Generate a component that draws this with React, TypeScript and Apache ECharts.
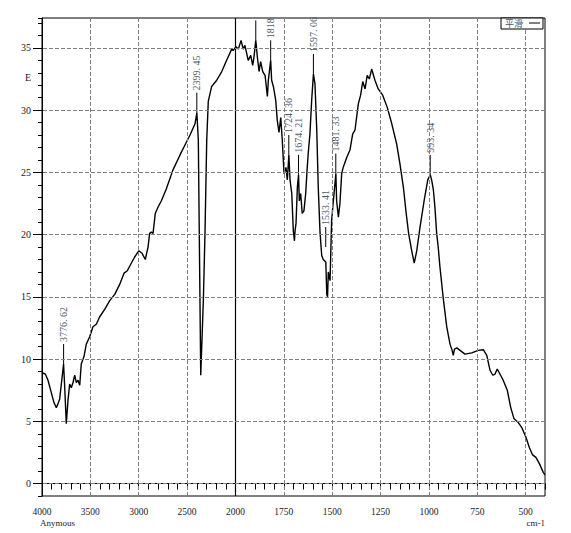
import { useEffect, useRef } from 'react';
import * as echarts from 'echarts';

// Spectrum (wavenumber cm-1, value)
const WAVENUMBERS = [
  4000, 3966, 3938, 3904, 3876, 3852, 3835, 3817, 3800, 3777, 3765, 3749, 3731, 3714, 3697, 3680, 3662, 3645, 3628, 3610,
  3594, 3566, 3542, 3507, 3473, 3439, 3403, 3352, 3300, 3248, 3197, 3152, 3118, 3077, 3042, 3000, 2966, 2932, 2904, 2887,
  2870, 2852, 2829, 2801, 2767, 2718, 2646, 2573, 2522, 2470, 2418, 2399, 2384, 2374, 2359, 2332, 2315, 2297, 2281, 2246,
  2194, 2142, 2091, 2039, 2022, 1997, 1985, 1971, 1960, 1951, 1934, 1921, 1911, 1904, 1895, 1887, 1878, 1870, 1859, 1847,
  1835, 1830, 1818, 1813, 1804, 1792, 1784, 1775, 1766, 1758, 1749, 1739, 1732, 1724, 1718, 1709, 1701, 1695, 1692, 1687,
  1680, 1674, 1670, 1663, 1655, 1646, 1637, 1629, 1624, 1615, 1606, 1597, 1589, 1580, 1572, 1563, 1554, 1546, 1533, 1528,
  1524, 1520, 1511, 1503, 1494, 1481, 1477, 1468, 1460, 1451, 1443, 1434, 1425, 1408, 1394, 1382, 1365, 1353, 1342, 1330,
  1319, 1308, 1296, 1279, 1262, 1239, 1215, 1192, 1167, 1150, 1132, 1119, 1105, 1089, 1076, 1063, 1046, 1025, 1006, 993,
  986, 977, 969, 960, 952, 943, 926, 908, 891, 880, 874, 868, 856, 839, 814, 779, 745, 719, 701, 684,
  670, 658, 647, 633, 616, 595, 577, 560, 538, 520, 498, 481, 464, 447, 429, 409, 400,
];
const VALUES = [
  8.9, 8.8, 8.3, 7.3, 6.5, 6.1, 6.4, 6.8, 8.0, 9.6, 7.7, 4.8, 6.7, 8.0, 7.7, 8.1, 8.7, 8.1, 8.3, 7.9,
  9.6, 10.2, 11.2, 11.8, 12.6, 12.8, 13.4, 14.0, 14.7, 15.2, 16.0, 16.9, 17.1, 17.7, 18.2, 18.7, 18.5, 18.0, 19.0, 20.1,
  20.2, 20.1, 21.7, 22.2, 22.7, 23.6, 25.2, 26.4, 27.2, 28.0, 28.9, 29.8, 27.6, 20.1, 8.7, 14.7, 20.1, 27.6, 30.7, 31.9,
  32.4, 33.1, 34.0, 34.9, 34.8, 35.1, 34.9, 35.6, 34.9, 35.2, 34.0, 34.4, 33.6, 34.3, 35.6, 34.3, 33.1, 33.9, 33.1, 32.8,
  31.1, 32.4, 34.0, 32.4, 31.9, 30.8, 29.2, 28.2, 29.4, 27.6, 24.9, 25.4, 24.4, 26.4, 24.4, 23.3, 20.3, 19.5, 20.3, 20.9,
  23.8, 24.8, 22.7, 23.3, 21.7, 21.9, 23.3, 25.4, 26.5, 28.1, 30.8, 32.9, 32.1, 28.5, 23.8, 20.2, 18.3, 18.0, 17.8, 15.2,
  15.0, 17.0, 16.3, 21.1, 22.7, 24.9, 22.7, 21.4, 22.5, 24.9, 25.4, 25.8, 26.2, 26.8, 28.1, 28.4, 30.5, 31.2, 32.3, 31.7,
  32.8, 32.5, 33.3, 32.4, 31.7, 31.2, 30.2, 28.9, 27.3, 25.7, 23.8, 21.9, 20.1, 18.7, 17.7, 18.7, 20.6, 22.7, 24.4, 24.8,
  24.4, 23.6, 22.2, 20.1, 19.0, 17.4, 14.9, 12.6, 11.2, 10.7, 10.3, 10.8, 10.9, 10.7, 10.4, 10.5, 10.7, 10.75, 10.3, 9.1,
  8.7, 8.8, 9.2, 8.8, 8.3, 7.5, 6.1, 5.2, 4.9, 4.5, 3.7, 2.9, 2.3, 2.1, 1.6, 0.9, 0.7,
];

// Peak annotations
const PEAK_WN = [3776.62, 2399.45, 1895, 1818, 1724.36, 1674.21, 1597.06, 1533.41, 1481.33, 993.34];
const PEAK_VAL = [9.6, 29.8, 35.6, 34.0, 26.4, 24.8, 32.9, 19.0, 24.9, 24.8];
const PEAK_LABELS = ['3776. 62', '2399. 45', '', '1818', '1724. 36', '1674. 21', '1597. 06', '1533. 41', '1481. 33', '993. 34'];

// Axis ticks
const X_TICK_LABELS = ['4000', '3500', '3000', '2500', '2000', '1750', '1500', '1250', '1000', '750', '500'];
const Y_TICKS = [0, 5, 10, 15, 20, 25, 30, 35];

// split x scale: above 2000 cm-1 is compressed by half
const toPos = (wn: number) => (wn > 2000 ? 2000 + (wn - 2000) / 2 : wn);
const fromPos = (p: number) => (p > 2000 ? 2000 + 2 * (p - 2000) : p);

const SERIF = '"Liberation Serif", "DejaVu Serif", serif';

export default function App() {
  const ref = useRef<HTMLDivElement>(null);
  useEffect(() => {
    if (!ref.current) return;
    const chart = echarts.init(ref.current, null, { renderer: 'svg' });
    const lineData = WAVENUMBERS.map((w, i) => [toPos(w), VALUES[i]]);
    const peakData = PEAK_WN.map((w, i) => [toPos(w), PEAK_VAL[i], i]);
    const dash = { type: [4, 2] as any, color: '#808080', width: 1 };
    const gridLines: any[] = [];
    X_TICK_LABELS.forEach((l) => {
      const wn = Number(l);
      if (wn === 4000) return;
      if (wn === 2000) {
        gridLines.push({ xAxis: toPos(wn), lineStyle: { type: 'solid', color: '#000', width: 1.2 } });
      } else {
        gridLines.push({ xAxis: toPos(wn), lineStyle: dash });
      }
    });
    Y_TICKS.forEach((v) => gridLines.push({ yAxis: v, lineStyle: dash }));

    chart.setOption({
      animation: false,
      backgroundColor: '#fff',
      grid: { left: 42, right: 26, top: 18, bottom: 37, show: true, borderColor: '#000', borderWidth: 1, backgroundColor: 'transparent' },
      xAxis: {
        type: 'value',
        inverse: true,
        min: 400,
        max: 3000,
        interval: 50,
        axisLine: { show: true, lineStyle: { color: '#000', width: 1 } },
        axisTick: { show: true, length: 6, lineStyle: { color: '#000' } },
        axisLabel: {
          margin: 11,
          color: '#1a1a2a',
          fontFamily: SERIF,
          fontSize: 9.5,
          formatter: (v: number) => {
            const r = Math.round(v);
            if (r % 250 !== 0) return '';
            const s = String(Math.round(fromPos(r)));
            return X_TICK_LABELS.indexOf(s) >= 0 ? s : '';
          },
        },
        splitLine: { show: false },
      },
      yAxis: [
        {
          type: 'value',
          min: -1,
          max: 37.4,
          interval: 1,
          axisLine: { show: true, lineStyle: { color: '#000', width: 1 } },
          axisTick: { show: true, length: 4, lineStyle: { color: '#000' } },
          axisLabel: {
            margin: 11,
            color: '#1a1a2a',
            fontFamily: SERIF,
            fontSize: 10,
            formatter: (v: number) => {
              const r = Math.round(v * 100) / 100;
              return Y_TICKS.indexOf(r) >= 0 ? String(r) : '';
            },
          },
          splitLine: { show: false },
        },
        {
          type: 'value',
          min: -1,
          max: 37.4,
          position: 'left',
          offset: 0,
          axisLine: { show: false },
          axisTick: { show: true, length: 9, customValues: Y_TICKS, lineStyle: { color: '#000' } },
          axisLabel: { show: false },
          splitLine: { show: false },
        },
      ],
      series: [
        {
          type: 'line',
          data: [[400, -5]],
          showSymbol: false,
          symbol: 'none',
          lineStyle: { opacity: 0 },
          silent: true,
          z: 1,
          markLine: {
            silent: true,
            symbol: ['none', 'none'],
            label: { show: false },
            animation: false,
            data: gridLines,
          },
        },
        {
          type: 'line',
          data: lineData,
          showSymbol: false,
          symbol: 'none',
          lineStyle: { color: '#000', width: 1.4 },
          z: 3,
        },
        {
          type: 'custom',
          data: peakData,
          clip: false,
          z: 4,
          renderItem: (_params: any, api: any) => {
            const i = api.value(2);
            const pt = api.coord([api.value(0), api.value(1)]);
            const children: any[] = [
              { type: 'line', shape: { x1: pt[0], y1: pt[1], x2: pt[0], y2: pt[1] - 20 }, style: { stroke: '#000', lineWidth: 1 } },
            ];
            const label = PEAK_LABELS[i];
            if (label) {
              children.push({
                type: 'text',
                x: pt[0],
                y: pt[1] - 22,
                rotation: Math.PI / 2,
                style: { text: label, fill: '#4f5b6b', font: `10px ${SERIF}`, align: 'left', verticalAlign: 'middle' },
              });
            }
            return { type: 'group', children };
          },
        },
      ],
      graphic: [
        { type: 'rect', z: 100, shape: { x: 501, y: 18, width: 42, height: 11 }, style: { fill: '#fff', stroke: '#000', lineWidth: 1 } },
        { type: 'text', z: 101, x: 505, y: 23.5, rotation: 0, style: { text: '平滑', fill: '#4a5670', fontSize: 9, fontFamily: '"Noto Sans CJK SC", sans-serif', verticalAlign: 'middle', align: 'left' } },
        { type: 'line', z: 101, shape: { x1: 529, y1: 23, x2: 540, y2: 23 }, style: { stroke: '#000', lineWidth: 1 } },
        { type: 'text', z: 100, x: 28, y: 77, style: { text: 'E', fill: '#1a1a2a', font: `10px ${SERIF}`, align: 'center', verticalAlign: 'middle' } },
        { type: 'text', z: 100, x: 40, y: 523, style: { text: 'Anymous', fill: '#1a1a2a', font: `9px ${SERIF}`, align: 'left', verticalAlign: 'middle' } },
        { type: 'text', z: 100, x: 545, y: 523, style: { text: 'cm-1', fill: '#1a1a2a', font: `9px ${SERIF}`, align: 'right', verticalAlign: 'middle' } },
      ],
    });
    return () => chart.dispose();
  }, []);
  return <div ref={ref} style={{ position: 'absolute', left: 0, top: 0, width: 571, height: 533 }} />;
}
